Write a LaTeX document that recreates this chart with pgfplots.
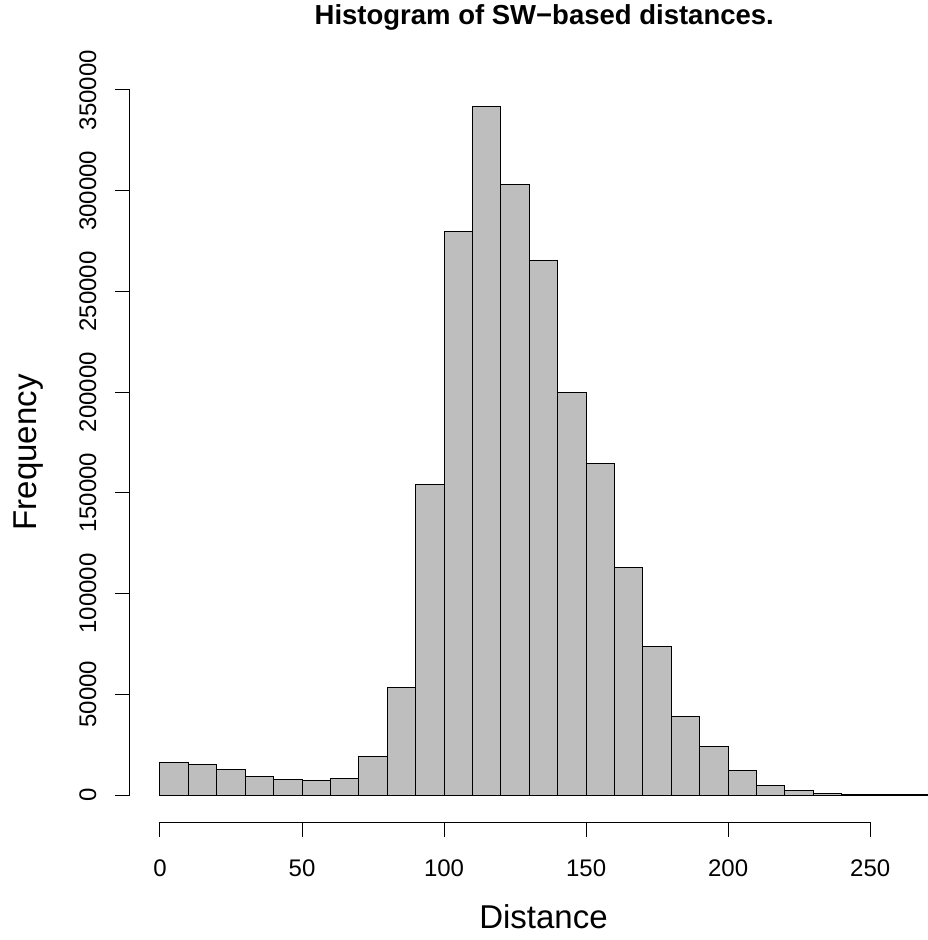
\documentclass[border=0pt]{standalone}
\usepackage{pgfplots}
\pgfplotsset{compat=1.18}
\usepackage{fontspec}
\setmainfont{Liberation Sans}
\definecolor{rgrey}{RGB}{190,190,190}
\begin{document}
\begin{tikzpicture}
\useasboundingbox (-160pt,-145pt) rectangle (767pt,795pt);
\begin{axis}[
  at={(0pt,0pt)}, anchor=south west,
  scale only axis, width=767pt, height=705pt,
  xmin=0, xmax=270, ymin=0, ymax=350000,
  axis x line*=bottom, axis y line*=left,
  axis x line shift=27pt, axis y line shift=30pt,
  x axis line style={-, line width=1pt, shorten >=56.8pt},
  y axis line style={-, line width=1pt},
  xtick={0,50,100,150,200,250},
  ytick={0,50000,100000,150000,200000,250000,300000,350000},
  tick align=outside, major tick length=15pt,
  tick style={line width=1pt, black},
  scaled y ticks=false,
  /pgf/number format/fixed,
  /pgf/number format/precision=0,
  /pgf/number format/1000 sep={},
  /pgf/number format/assume math mode=true,
  tick label style={font=\fontsize{24}{28}\selectfont},
  xticklabel style={yshift=-19pt},
  yticklabel style={xshift=-15pt, rotate=90, anchor=south},
  clip=false,
  title={\bfseries Histogram of SW−based distances.},
  title style={font=\fontsize{27.5}{32}\selectfont, at={(axis description cs:0.501,1.0851)}, anchor=base},
  xlabel={Distance},
  xlabel style={font=\fontsize{33}{38}\selectfont, at={(axis description cs:0.5,-0.1887)}, anchor=base},
  ylabel={Frequency},
  ylabel style={font=\fontsize{33}{38}\selectfont, at={(axis description cs:-0.1604,0.486)}, anchor=base},
]
\addplot[ybar, bar width=10, bar shift=0pt, fill=rgrey, draw=black, line width=1pt] coordinates {
(5,16200) (15,15200) (25,12900) (35,9300) (45,7800) (55,7300) (65,8100)
(75,19200) (85,53600) (95,154000) (105,279700) (115,341600) (125,303200)
(135,265600) (145,200000) (155,164800) (165,112700) (175,73500) (185,39200)
(195,24200) (205,12300) (215,4600) (225,2100) (235,700) (245,200) (255,100) (265,50)
};
\end{axis}
\end{tikzpicture}
\end{document}
